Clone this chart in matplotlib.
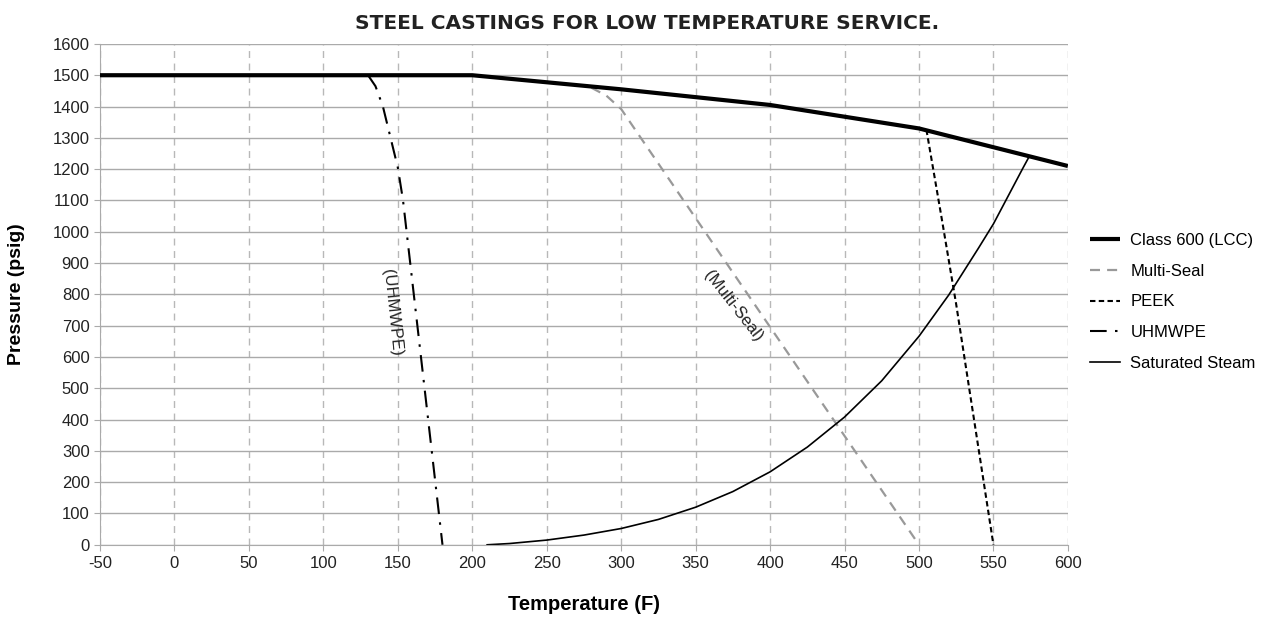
import matplotlib.pyplot as plt

plt.rcParams['font.family'] = ['Liberation Sans', 'DejaVu Sans']

# Class 600 (LCC) rating
class_t = [-50, 100, 200, 300, 400, 500, 600]
class_p = [1500, 1500, 1500, 1455, 1405, 1330, 1210]

# Multi-Seal
multi_t = [280, 290, 300, 310, 500]
multi_p = [1460, 1435, 1392, 1322, 0]

# PEEK
peek_t = [505, 515, 525, 550]
peek_p = [1326, 1050, 768, 0]

# UHMWPE
uhm_t = [130, 135, 140, 150, 153.5, 180]
uhm_p = [1500, 1465, 1400, 1205, 1100, 0]

# Saturated steam (psig)
steam_t = [210, 225, 250, 275, 300, 325, 350, 375, 400, 425, 450, 475, 500,
           520, 540, 550, 560, 570, 574]
steam_p = [0, 4, 15, 31, 52, 81, 120, 170, 233, 312, 408, 524, 666,
           798, 948, 1025, 1115, 1205, 1240]

xticks = list(range(-50, 601, 50))
yticks = list(range(0, 1601, 100))

fig = plt.figure(figsize=(12.66, 6.32), dpi=100)
ax = fig.add_axes([0.079, 0.138, 0.7645, 0.7925])

ax.plot(class_t, class_p, color='black', lw=3.0, label='Class 600 (LCC)', zorder=5,
        solid_capstyle='butt')
ax.plot(multi_t, multi_p, color='#999999', lw=1.6, dashes=(4.5, 3.2), label='Multi-Seal')
ax.plot(peek_t, peek_p, color='black', lw=1.5, dashes=(2.6, 1.6), label='PEEK')
ax.plot(uhm_t, uhm_p, color='black', lw=1.5, dashes=(8, 4, 1.2, 4), label='UHMWPE')
ax.plot(steam_t, steam_p, color='black', lw=1.2, label='Saturated Steam')

# rotated curve labels
ax.text(146, 742, '(UHMWPE)', rotation=-84, ha='center', va='center',
        fontsize=12, color='#222222')
ax.text(375, 764, '(Multi-Seal)', rotation=-52, ha='center', va='center',
        fontsize=12, color='#222222')

ax.set_xlim(-50, 600)
ax.set_ylim(0, 1600)
ax.set_xticks(xticks)
ax.set_yticks(yticks)
ax.set_xticklabels([str(t) for t in xticks])
ax.tick_params(labelsize=12, colors='#222222', length=4, color='#aaaaaa')
ax.tick_params(axis='x', pad=4)

ax.grid(axis='y', color='#aaaaaa', lw=1.0)
ax.grid(axis='x', color='#b8b8b8', lw=1.0, dashes=(5, 4))
ax.set_axisbelow(True)
for s in ['top', 'right']:
    ax.spines[s].set_visible(False)
for s in ['left', 'bottom']:
    ax.spines[s].set_color('#aaaaaa')

ax.set_xlabel('Temperature (F)', fontsize=14.5, fontweight='bold', labelpad=17)
ax.set_ylabel('Pressure (psig)', fontsize=14, fontweight='bold', labelpad=20)
fig.suptitle('STEEL CASTINGS FOR LOW TEMPERATURE SERVICE.', x=0.511, y=0.978,
             fontsize=14.5, fontweight='bold', family=['DejaVu Sans'], color='#222222')

leg = ax.legend(loc='center left', bbox_to_anchor=(1.007, 0.485), frameon=False, fontsize=12,
                handlelength=1.8, labelspacing=0.95, handletextpad=0.65)

plt.savefig('out.png', dpi=100)
